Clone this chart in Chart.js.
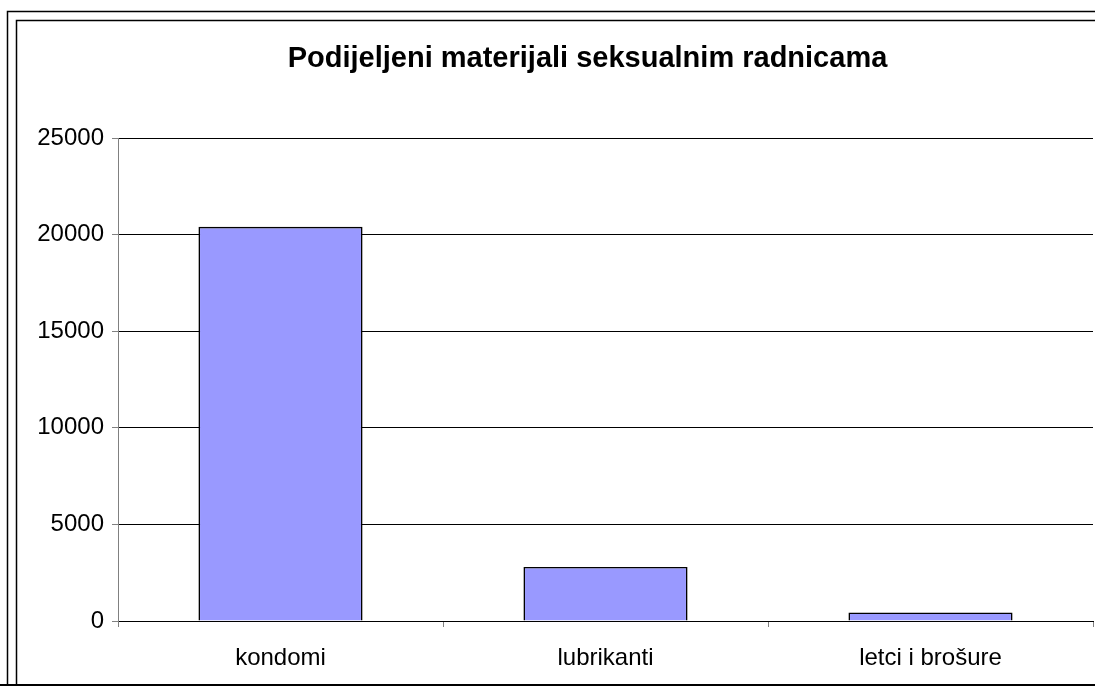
<!DOCTYPE html>
<html>
<head>
<meta charset="utf-8">
<script src="https://cdn.jsdelivr.net/npm/chart.js@4.4.1/dist/chart.umd.min.js"></script>
<style>
  html, body { margin: 0; padding: 0; background: #fff; }
  #wrap { width: 1095px; height: 686px; position: relative; }
</style>
</head>
<body>
<div id="wrap"><canvas id="c" width="1095" height="686"></canvas></div>
<script>
const categories = ["kondomi", "lubrikanti", "letci i brošure"];
const values = [20400, 2800, 440];
const yTicks = [0, 5000, 10000, 15000, 20000, 25000];
const chartTitle = "Podijeljeni materijali seksualnim radnicama";

const framePlugin = {
  id: 'frame',
  beforeDraw(chart) {
    const ctx = chart.ctx;
    ctx.save();
    ctx.fillStyle = '#fff';
    ctx.fillRect(0, 0, chart.width, chart.height);
    ctx.strokeStyle = '#000';
    ctx.lineWidth = 1.5;
    ctx.beginPath();
    ctx.moveTo(1095, 11.5); ctx.lineTo(7.5, 11.5); ctx.lineTo(7.5, 686);
    ctx.moveTo(1095, 20.5); ctx.lineTo(16.5, 20.5); ctx.lineTo(16.5, 686);
    ctx.stroke();
    ctx.lineWidth = 2;
    ctx.beginPath();
    ctx.moveTo(0, 685); ctx.lineTo(1095, 685);
    ctx.stroke();
    ctx.restore();
  },
  afterDraw(chart) {
    const ctx = chart.ctx;
    ctx.save();
    ctx.fillStyle = '#000';
    ctx.font = 'bold 29px "Liberation Sans", Arial, sans-serif';
    ctx.textAlign = 'center';
    ctx.textBaseline = 'alphabetic';
    ctx.fillText(chartTitle, 587.5, 67);
    ctx.restore();
  }
};

new Chart(document.getElementById('c'), {
  type: 'bar',
  data: {
    labels: categories,
    datasets: [{
      data: values,
      backgroundColor: '#9999FF',
      borderColor: '#000',
      borderWidth: 1.6,
      categoryPercentage: 1.0,
      barPercentage: 0.505
    }]
  },
  options: {
    responsive: false,
    animation: false,
    devicePixelRatio: 1,
    layout: { padding: { left: 0, right: 2, top: 138, bottom: 0 } },
    plugins: {
      legend: { display: false },
      tooltip: { enabled: false },
      title: { display: false }
    },
    scales: {
      x: {
        grid: { offset: true, drawOnChartArea: false, drawTicks: true, tickLength: 6, tickColor: '#808080' },
        border: { color: '#000', width: 1 },
        ticks: {
          color: '#000', padding: 17,
          font: { family: 'Liberation Sans, Arial, sans-serif', size: 24 },
          maxRotation: 0
        },
        afterFit(scale) { scale.height = 65; }
      },
      y: {
        min: 0, max: 25000,
        afterBuildTicks(scale) { scale.ticks = yTicks.map(v => ({ value: v })); },
        grid: { color: '#000', lineWidth: 1, drawTicks: true, tickLength: 6, tickColor: '#808080' },
        border: { color: '#808080', width: 1 },
        ticks: {
          color: '#000', padding: 8,
          font: { family: 'Liberation Sans, Arial, sans-serif', size: 24 },
          callback: (v) => String(v)
        },
        afterFit(scale) { scale.width = 118; }
      }
    }
  },
  plugins: [framePlugin]
});
</script>
</body>
</html>
